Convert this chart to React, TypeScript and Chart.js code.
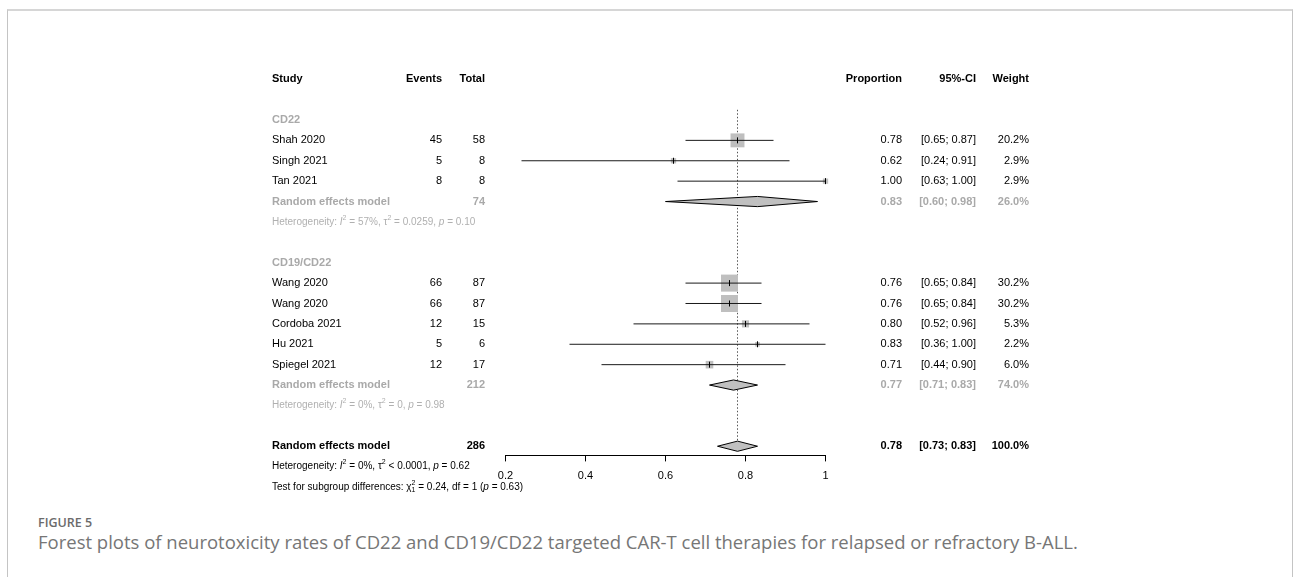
import React, { useEffect, useRef } from "react";
import { Chart, registerables } from "chart.js";

Chart.register(...registerables);

// ---------- data ----------
const headerLabels = ["Study", "Events", "Total", "Proportion", "95%-CI", "Weight"];

const subgroupNames = ["CD22", "CD19/CD22"];
const subgroupRows = [2, 9];

const studies = ["Shah 2020", "Singh 2021", "Tan 2021", "Wang 2020", "Wang 2020", "Cordoba 2021", "Hu 2021", "Spiegel 2021"];
const studyRows = [3, 4, 5, 10, 11, 12, 13, 14];
const events = [45, 5, 8, 66, 66, 12, 5, 12];
const totals = [58, 8, 8, 87, 87, 15, 6, 17];
const proportions = [0.78, 0.62, 1.0, 0.76, 0.76, 0.8, 0.83, 0.71];
const ciLower = [0.65, 0.24, 0.63, 0.65, 0.65, 0.52, 0.36, 0.44];
const ciUpper = [0.87, 0.91, 1.0, 0.84, 0.84, 0.96, 1.0, 0.9];
const weights = [20.2, 2.9, 2.9, 30.2, 30.2, 5.3, 2.2, 6.0];

const pooledLabel = "Random effects model";
const pooledRows = [6, 15, 18];
const pooledTotals = [74, 212, 286];
const pooledEst = [0.83, 0.77, 0.78];
const pooledLower = [0.6, 0.71, 0.73];
const pooledUpper = [0.98, 0.83, 0.83];
const pooledWeights = [26.0, 74.0, 100.0];

const hetRows = [7, 16, 19];
const hetI2 = ["57%", "0%", "0%"];
const hetTau2 = ["= 0.0259", "= 0", "< 0.0001"];
const hetP = ["0.10", "0.98", "0.62"];

const testRow = 20;
const testChi2 = "0.24";
const testDf = "1";
const testP = "0.63";

const referenceValue = 0.78;
const xTicks = [0.2, 0.4, 0.6, 0.8, 1.0];
const xTickLabels = ["0.2", "0.4", "0.6", "0.8", "1"];

const captionTitle = "FIGURE 5";
const captionText =
  "Forest plots of neurotoxicity rates of CD22 and CD19/CD22 targeted CAR-T cell therapies for relapsed or refractory B-ALL.";

// ---------- style ----------
const FONT = "'Liberation Sans', Arial, Helvetica, sans-serif";
const GREY = "#a9a9a9";
const HET_GREY = "#b0b0b0";
const COL = { study: 272, events: 442, total: 485, prop: 902, ci: 976, weight: 1029 };
const CANVAS_W = 1293;
const CANVAS_H = 500;
const DIAMOND_HALF = 0.25;
const SMALL = 10;

type Part = { t: string; italic?: boolean; sup?: boolean; sub?: boolean; stack?: boolean };

function drawRich(ctx: CanvasRenderingContext2D, parts: Part[], x: number, y: number, size: number, color: string) {
  let cx = x;
  ctx.fillStyle = color;
  ctx.textAlign = "left";
  for (const p of parts) {
    const fs = p.sup || p.sub ? size * 0.7 : size;
    ctx.font = `${p.italic ? "italic " : ""}${fs}px ${FONT}`;
    const dy = p.sup ? -size * 0.42 : p.sub ? size * 0.32 : 0;
    ctx.fillText(p.t, cx, y + dy);
    if (!p.stack) cx += ctx.measureText(p.t).width;
  }
}

function hetParts(i: number): Part[] {
  return [
    { t: "Heterogeneity: " },
    { t: "I", italic: true },
    { t: "2", sup: true },
    { t: " = " + hetI2[i] + ", \u03c4" },
    { t: "2", sup: true },
    { t: " " + hetTau2[i] + ", " },
    { t: "p", italic: true },
    { t: " = " + hetP[i] },
  ];
}

const textPlugin = {
  id: "forestText",
  afterDraw(chart: any) {
    const ctx: CanvasRenderingContext2D = chart.ctx;
    const ys = chart.scales.y;
    const Y = (r: number) => ys.getPixelForValue(r);
    ctx.save();
    ctx.textBaseline = "middle";

    const txt = (s: string, x: number, y: number, align: CanvasTextAlign, bold: boolean, color: string, size = 11) => {
      ctx.font = `${bold ? "bold " : ""}${size}px ${FONT}`;
      ctx.textAlign = align;
      ctx.fillStyle = color;
      ctx.fillText(s, x, y);
    };

    // header
    const hy = Y(0);
    txt(headerLabels[0], COL.study, hy, "left", true, "#000");
    txt(headerLabels[1], COL.events, hy, "right", true, "#000");
    txt(headerLabels[2], COL.total, hy, "right", true, "#000");
    txt(headerLabels[3], COL.prop, hy, "right", true, "#000");
    txt(headerLabels[4], COL.ci, hy, "right", true, "#000");
    txt(headerLabels[5], COL.weight, hy, "right", true, "#000");

    // subgroup labels
    subgroupNames.forEach((n, i) => txt(n, COL.study, Y(subgroupRows[i]), "left", true, GREY));

    // studies
    studies.forEach((s, i) => {
      const y = Y(studyRows[i]);
      txt(s, COL.study, y, "left", false, "#000");
      txt(String(events[i]), COL.events, y, "right", false, "#000");
      txt(String(totals[i]), COL.total, y, "right", false, "#000");
      txt(proportions[i].toFixed(2), COL.prop, y, "right", false, "#000");
      txt(`[${ciLower[i].toFixed(2)}; ${ciUpper[i].toFixed(2)}]`, COL.ci, y, "right", false, "#000");
      txt(weights[i].toFixed(1) + "%", COL.weight, y, "right", false, "#000");
    });

    // pooled rows
    pooledRows.forEach((r, i) => {
      const y = Y(r);
      const c = i === pooledRows.length - 1 ? "#000" : GREY;
      txt(pooledLabel, COL.study, y, "left", true, c);
      txt(String(pooledTotals[i]), COL.total, y, "right", true, c);
      txt(pooledEst[i].toFixed(2), COL.prop, y, "right", true, c);
      txt(`[${pooledLower[i].toFixed(2)}; ${pooledUpper[i].toFixed(2)}]`, COL.ci, y, "right", true, c);
      txt(pooledWeights[i].toFixed(1) + "%", COL.weight, y, "right", true, c);
    });

    // heterogeneity
    hetRows.forEach((r, i) => {
      const c = i === hetRows.length - 1 ? "#000" : HET_GREY;
      drawRich(ctx, hetParts(i), COL.study, Y(r), SMALL, c);
    });

    // test for subgroup differences
    drawRich(
      ctx,
      [
        { t: "Test for subgroup differences: \u03c7" },
        { t: "2", sup: true, stack: true },
        { t: "1", sub: true },
        { t: " = " + testChi2 + ", df = " + testDf + " (" },
        { t: "p", italic: true },
        { t: " = " + testP + ")" },
      ],
      COL.study,
      Y(testRow),
      SMALL,
      "#000"
    );
    ctx.restore();
  },
};

function App() {
  const ref = useRef<HTMLCanvasElement | null>(null);

  useEffect(() => {
    if (!ref.current) return;
    const datasets: any[] = [];

    // CI lines
    studies.forEach((_, i) => {
      datasets.push({
        type: "line",
        data: [
          { x: ciLower[i], y: studyRows[i] },
          { x: ciUpper[i], y: studyRows[i] },
        ],
        borderColor: "#1a1a1a",
        borderWidth: 1,
        pointRadius: 0,
        fill: false,
        tension: 0,
        clip: false,
        order: 1,
      });
    });

    // point estimate ticks
    datasets.push({
      type: "scatter",
      data: proportions.map((p, i) => ({ x: p, y: studyRows[i] })),
      pointStyle: "line",
      pointRotation: 90,
      pointRadius: 3,
      pointBorderWidth: 1,
      pointBorderColor: "#000",
      clip: false,
      order: 0,
    });

    // weight squares
    datasets.push({
      type: "scatter",
      data: proportions.map((p, i) => ({ x: p, y: studyRows[i] })),
      pointStyle: "rect",
      pointRadius: weights.map((w) => (3.1 * Math.sqrt(w)) / Math.SQRT2),
      pointBackgroundColor: "#bfbfbf",
      pointBorderWidth: 0,
      clip: false,
      order: 2,
    });

    // diamonds
    pooledRows.forEach((r, i) => {
      datasets.push({
        type: "line",
        data: [
          { x: pooledLower[i], y: r },
          { x: pooledEst[i], y: r - DIAMOND_HALF },
          { x: pooledUpper[i], y: r },
          { x: pooledEst[i], y: r + DIAMOND_HALF },
          { x: pooledLower[i], y: r },
        ],
        borderColor: "#000",
        borderWidth: 1,
        backgroundColor: "#c0c0c0",
        fill: "shape",
        pointRadius: 0,
        tension: 0,
        clip: false,
        order: 1,
      });
    });

    // reference line
    datasets.push({
      type: "line",
      data: [
        { x: referenceValue, y: 1.5 },
        { x: referenceValue, y: pooledRows[2] - DIAMOND_HALF },
      ],
      borderColor: "#555",
      borderWidth: 1,
      borderDash: [1.5, 2],
      pointRadius: 0,
      fill: false,
      clip: false,
      order: 3,
    });

    const chart = new Chart(ref.current, {
      type: "scatter",
      data: { datasets },
      options: {
        animation: false,
        responsive: false,
        events: [],
        layout: { padding: { left: 505.5, right: 467.5, top: 79.2, bottom: 14.6 } },
        plugins: { legend: { display: false }, tooltip: { enabled: false }, title: { display: false } },
        scales: {
          x: {
            type: "linear",
            position: "bottom",
            min: 0.2,
            max: 1.0,
            afterBuildTicks: (scale: any) => {
              scale.ticks = xTicks.map((v) => ({ value: v }));
            },
            afterFit: (scale: any) => {
              scale.height = 30;
            },
            ticks: {
              callback: (_v: any, idx: number) => xTickLabels[idx],
              color: "#000",
              font: { family: FONT, size: 11 },
              padding: 8,
              maxRotation: 0,
              autoSkip: false,
            },
            grid: { display: true, drawOnChartArea: false, drawTicks: true, tickLength: 6, color: "#000", lineWidth: 1 },
            border: { display: true, color: "#000", width: 1 },
          },
          y: {
            type: "linear",
            display: false,
            reverse: true,
            min: 0,
            max: 18.45,
          },
        },
      } as any,
      plugins: [textPlugin],
    });
    return () => chart.destroy();
  }, []);

  return (
    <div style={{ position: "fixed", left: 0, top: 0, width: 1293, height: 577, overflow: "hidden", background: "#fff" }}>
      <div
        style={{
          position: "absolute",
          left: 7,
          top: 9,
          width: 1284,
          height: 600,
          borderTop: "2px solid #d6d6d6",
          borderLeft: "1px solid #c4c4c4",
          borderRight: "1px solid #c4c4c4",
        }}
      />
      <canvas
        ref={ref}
        width={CANVAS_W}
        height={CANVAS_H}
        style={{ position: "absolute", left: 0, top: 0, width: CANVAS_W, height: CANVAS_H }}
      />
      <div
        style={{
          position: "absolute",
          left: 38,
          top: 514,
          fontFamily: "'Open Sans', sans-serif",
          fontSize: 12.5,
          fontWeight: 600,
          lineHeight: "17px",
          color: "#6b6b6b",
          whiteSpace: "nowrap",
        }}
      >
        {captionTitle}
      </div>
      <div
        style={{
          position: "absolute",
          left: 38,
          top: 529,
          fontFamily: "'Open Sans', sans-serif",
          fontSize: 18.5,
          lineHeight: "26px",
          color: "#767676",
          whiteSpace: "nowrap",
        }}
      >
        {captionText}
      </div>
    </div>
  );
}

export default App;
